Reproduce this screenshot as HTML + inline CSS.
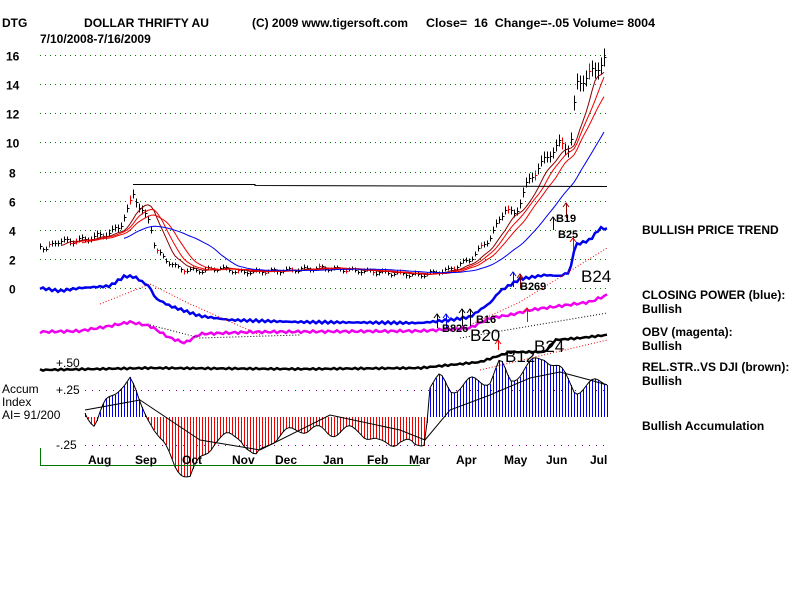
<!DOCTYPE html>
<html><head><meta charset="utf-8"><style>
body{margin:0;background:#fff;width:800px;height:600px;overflow:hidden}
svg{display:block}
text{font-family:"Liberation Sans",sans-serif;font-weight:bold;font-size:12px;fill:#000}
line{shape-rendering:crispEdges}
</style></head><body>
<svg id="s" width="800" height="600" xmlns="http://www.w3.org/2000/svg">
<text x="2" y="27">DTG</text>
<text x="84" y="27" textLength="125" lengthAdjust="spacingAndGlyphs">DOLLAR THRIFTY AU</text>
<text x="252" y="27" textLength="156" lengthAdjust="spacingAndGlyphs">(C) 2009 www.tigersoft.com</text>
<text x="426" y="27" textLength="229" lengthAdjust="spacingAndGlyphs" xml:space="preserve">Close=  16  Change=-.05 Volume= 8004</text>
<text x="40" y="43">7/10/2008-7/16/2009</text>
<g id="g"></g>
<text x="642" y="234">BULLISH PRICE TREND</text>
<text x="642" y="299">CLOSING POWER (blue):</text>
<text x="642" y="313">Bullish</text>
<text x="642" y="336">OBV (magenta):</text>
<text x="642" y="350">Bullish</text>
<text x="642" y="371">REL.STR..VS DJI (brown):</text>
<text x="642" y="385">Bullish</text>
<text x="642" y="430">Bullish Accumulation</text>
<text x="2" y="393" style="font-weight:normal">Accum</text>
<text x="2" y="406" style="font-weight:normal">Index</text>
<text x="2" y="419" style="font-weight:normal">AI= 91/200</text>
<text x="56" y="394" style="font-weight:normal">+.25</text>
<text x="56" y="367" style="font-weight:normal">+.50</text>
<text x="56" y="449" style="font-weight:normal">-.25</text>
<text x="88" y="464">Aug</text><text x="135" y="464">Sep</text><text x="182" y="464">Oct</text>
<text x="232" y="464">Nov</text><text x="275" y="464">Dec</text><text x="323" y="464">Jan</text>
<text x="367" y="464">Feb</text><text x="409" y="464">Mar</text><text x="456" y="464">Apr</text>
<text x="504" y="464">May</text><text x="546" y="464">Jun</text><text x="590" y="464">Jul</text>
<text x="556" y="222" style="font-size:11px">B19</text>
<text x="558" y="238" style="font-size:11px">B25</text>
<text x="581" y="282" style="font-size:17px;font-weight:normal">B24</text>
<text x="520" y="290" style="font-size:11px">B269</text>
<text x="476" y="323" style="font-size:11px">B16</text>
<text x="442" y="332" style="font-size:11px">B826</text>
<text x="470" y="341" style="font-size:17px;font-weight:normal">B20</text>
<text x="505" y="362" style="font-size:17px;font-weight:normal">B12</text>
<text x="534" y="352" style="font-size:17px;font-weight:normal">B24</text>
</svg>
<script>
var g=document.getElementById('g'),out='';
function L(a,c,w,d){out+='<polyline fill="none" stroke="'+c+'" stroke-width="'+(w||1)+'"'+(d?' stroke-dasharray="'+d+'"':'')+' points="'+a.map(p=>p[0]+','+p[1].toFixed(1)).join(' ')+'"/>';}
function interp(k,x){for(var i=1;i<k.length;i++){if(x<=k[i][0]){var a=k[i-1],b=k[i];return a[1]+(b[1]-a[1])*(x-a[0])/(b[0]-a[0]);}}return k[k.length-1][1];}
function py(v){return 288-v*14.56;}
function R(y){return Math.round(y)+0.5;}
for(var v=0;v<=16;v+=2){var y=R(py(v));out+='<line x1="40" y1="'+y+'" x2="607" y2="'+y+'" stroke="#070" stroke-dasharray="1,4"/>';out+='<text x="'+(v>=10?6:9)+'" y="'+(y+5)+'">'+v+'</text>';}
[390.5,445.5].forEach(y=>out+='<line x1="85" y1="'+y+'" x2="607" y2="'+y+'" stroke="#808" stroke-dasharray="1,6"/>');
var pk=[[40,3],[45,2.6],[55,3.2],[80,3.3],[110,3.8],[120,4.3],[128,5.5],[133,6.5],[140,5.5],[150,4.5],[155,2.7],[165,2],[180,1.3],[200,1.2],[220,1.4],[240,1.1],[280,1.2],[320,1.4],[380,1.1],[420,0.9],[450,1.3],[470,2],[490,3.5],[505,5.5],[515,5],[525,7],[540,8.5],[560,10],[570,9.5],[576,14],[595,15],[605,15.8]];
var P=[];for(var x=40;x<=606;x+=3){P.push([x,interp(pk,x)+Math.sin(x*1.7)*0.12*(1+interp(pk,x)*0.1)]);}
P.forEach((p,i)=>{var v=p[1],r=0.12+v*0.03,c=(i%9==3)?'#e00':'#000',xx=p[0]+0.5;out+='<line x1="'+xx+'" y1="'+R(py(v+r))+'" x2="'+xx+'" y2="'+R(py(v-r))+'" stroke="'+c+'"/><line x1="'+xx+'" y1="'+R(py(v))+'" x2="'+(xx+2)+'" y2="'+R(py(v))+'" stroke="'+c+'"/>';});
function ma(n){var r=[];for(var i=n;i<P.length;i++){var s=0;for(var j=i-n;j<i;j++)s+=P[j][1];r.push([P[i][0],py(s/n)]);}return r;}
L(ma(7),'#800');L(ma(10),'#e00');L(ma(14),'#e00');L(ma(28),'#00e');
L([[133,184.5],[255,184.5],[255,185.5],[607,186.5]],'#000');
var cp=[[40,288],[60,291],[80,288],[110,286],[125,276],[135,277],[150,287],[155,298],[170,306],[200,316],[230,320],[300,322],[420,323],[450,320],[470,317],[490,303],[500,291],[520,279],[545,275],[560,276],[570,272],[575,245],[590,240],[600,228],[607,229]];
var a=[];for(x=40;x<=607;x+=3)a.push([x,interp(cp,x)+Math.sin(x)*1.2]);L(a,'#00e',2.5);
L([[100,304],[150,284],[190,304],[260,335]],'#e00',1,'1,2');L([[470,325],[520,302],[607,248]],'#e00',1,'1,2');
var ob=[[40,332],[80,331],[110,326],[130,322],[150,326],[170,338],[185,343],[200,334],[250,332],[420,331],[470,328],[490,318],[510,315],[530,310],[560,306],[590,302],[607,295]];
a=[];for(x=40;x<=607;x+=3)a.push([x,interp(ob,x)+Math.sin(x*1.3)*1.2]);L(a,'#e0e',2.5);
L([[150,325],[200,338],[300,335]],'#000',1,'1,2');L([[460,338],[607,313]],'#000',1,'1,2');
var rs=[[40,370],[150,368],[300,369],[420,368],[480,362],[510,352],[545,352],[555,340],[580,338],[607,335]];
a=[];for(x=40;x<=607;x+=3)a.push([x,interp(rs,x)+Math.sin(x*0.9)*0.8]);L(a,'#000',2.5);
L([[480,370],[607,340]],'#e00',1,'1,2');
var ak=[[85,410],[95,425],[105,405],[120,385],[130,380],[140,405],[150,418],[160,440],[175,465],[190,478],[200,460],[215,440],[240,435],[255,460],[270,440],[300,428],[330,432],[360,430],[380,445],[400,440],[415,447],[425,440],[430,385],[440,378],[450,390],[470,382],[490,380],[500,363],[510,380],[530,365],[545,356],[560,370],[575,390],[590,385],[607,380]];
var base=417,ai=[];
for(x=85;x<=607;x+=3){var y=interp(ak,x)+Math.sin(x*2.3)*5;ai.push([x,y]);out+='<line x1="'+(x+0.5)+'" y1="'+base+'" x2="'+(x+0.5)+'" y2="'+Math.round(y)+'" stroke="'+(y<base?'#00e':'#e00')+'"/>';}
L(ai,'#000');
L([[85,410],[140,400],[200,440],[260,450],[330,415],[400,430],[425,440],[450,410],[490,395],[530,378],[560,372],[590,380],[607,385]],'#000');
L([[40.5,448],[40.5,465.5],[420,465.5]],'#070');
function ar(x,y1,y2,c){out+='<line x1="'+x+'.5" y1="'+y1+'" x2="'+x+'.5" y2="'+y2+'" stroke="'+c+'"/><polyline fill="none" stroke="'+c+'" points="'+(x-3)+','+(y2+4)+' '+x+','+y2+' '+(x+3)+','+(y2+4)+'"/>';}
ar(553,230,217,'#000');ar(566,218,203,'#800');ar(573,250,238,'#e00');ar(513,287,272,'#00e');ar(520,288,274,'#800');
ar(437,328,314,'#000');ar(446,328,314,'#00e');ar(462,326,309,'#000');ar(470,326,309,'#000');ar(527,322,308,'#e00');ar(498,350,340,'#e00');
g.innerHTML=out;
</script>
</body></html>
